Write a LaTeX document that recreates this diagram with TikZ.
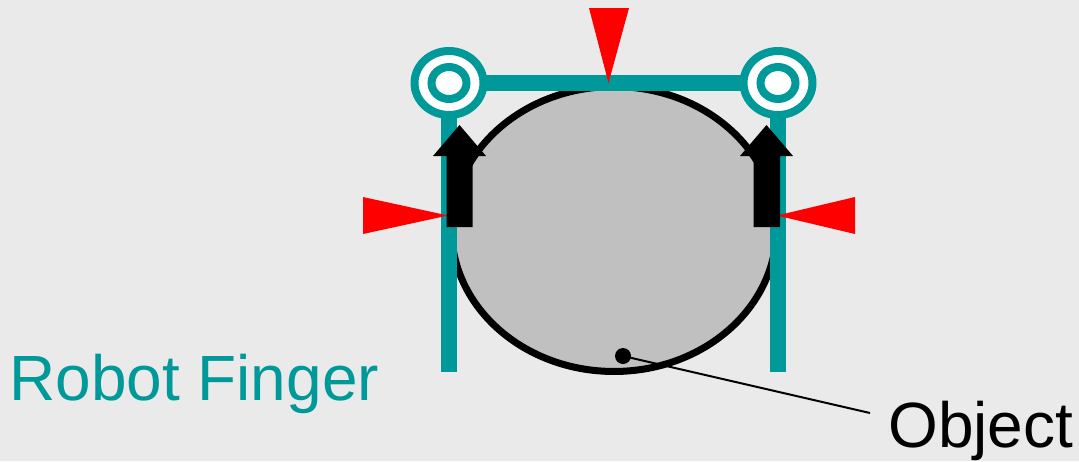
\documentclass[tikz,border=0pt]{standalone}
\usepackage{fontspec}
\setmainfont{Liberation Sans}
\usepackage{xcolor}
\usetikzlibrary{shapes.geometric}
\definecolor{panel}{HTML}{EAEAEA}
\definecolor{fingerteal}{HTML}{009999}
\definecolor{objgray}{HTML}{C0C0C0}
\begin{document}
\begin{tikzpicture}[x=0.02cm, y=-0.02cm,
  finger/.style={draw=fingerteal, line width=0.32cm},
  hingeout/.style={draw=fingerteal, fill=white, ellipse, line width=0.16cm, inner sep=0pt, minimum width=1.38cm, minimum height=1.28cm},
  hingein/.style={draw=fingerteal, fill=white, ellipse, line width=0.16cm, inner sep=0pt, minimum width=0.70cm, minimum height=0.64cm},
  label/.style={inner sep=0pt, anchor=base west, font=\fontsize{36.4}{40}\selectfont}]
\path[fill=panel, use as bounding box] (0,0) rectangle (1079,461);
% Object
\node (obj) at (614,229) [draw=black, fill=objgray, ellipse, line width=0.14cm, inner sep=0pt, minimum width=6.50cm, minimum height=5.70cm] {};
% Nodes
\coordinate (jointL) at (449,83);
\coordinate (jointR) at (778,83);
\coordinate (footL) at (449,372);
\coordinate (footR) at (778,372);
\coordinate (leader) at (870,413);
\node (contact) at (623,356) [fill=black, circle, inner sep=0pt, minimum size=0.32cm] {};
\node (robot) at (9,400) [label, text=fingerteal] {Robot Finger};
\node (object) at (888,447) [label, text=black] {Object};
% Edges
\draw[finger] (jointL) -- (jointR);
\draw[finger] (jointL) -- (footL);
\draw[finger] (jointR) -- (footR);
\draw[black, line width=0.04cm] (contact.center) -- (leader);
% Joints
\node (hingeL) at (jointL) [hingeout] {};
\node (hingeR) at (jointR) [hingeout] {};
\node (pinL) at (jointL) [hingein] {};
\node (pinR) at (jointR) [hingein] {};
% Red wedges
\fill[red] (363,197) -- (448,215.5) -- (363,234) -- cycle;
\fill[red] (855,197) -- (777,215.5) -- (855,234) -- cycle;
\fill[red] (589,8) -- (629,8) -- (608.5,83) -- cycle;
% Black arrows
\fill[black] (446.5,227) -- (446.5,156) -- (433,156) -- (459.5,125) -- (486,156) -- (472.5,156) -- (472.5,227) -- cycle;
\fill[black] (753.5,227) -- (753.5,156) -- (740,156) -- (766.5,125) -- (793,156) -- (780,156) -- (780,227) -- cycle;
\end{tikzpicture}
\end{document}
